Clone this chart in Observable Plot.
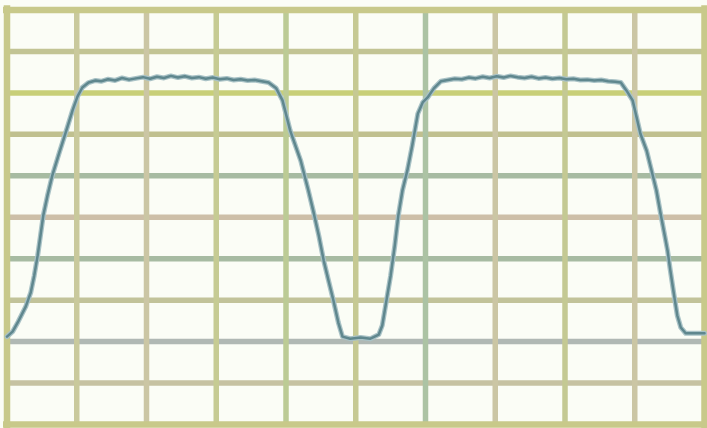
<!DOCTYPE html>
<html>
<head>
<meta charset="utf-8">
<script src="https://cdn.jsdelivr.net/npm/d3@7"></script>
<script src="https://cdn.jsdelivr.net/npm/@observablehq/plot@0.6"></script>
<style>
  html, body { margin: 0; padding: 0; background: #fbfdf6; }
  #chart svg { display: block; }
</style>
</head>
<body>
<div id="chart"></div>
<script>
// Oscilloscope trace, in screen divisions (10 x 10 graticule)
const time = [
  0.00, 0.08, 0.16, 0.27, 0.34, 0.39, 0.44, 0.48, 0.52, 0.58, 0.65, 0.75, 0.85, 0.94, 1.01, 1.08, 1.17, 1.27,
  1.35, 1.45, 1.55, 1.65, 1.75, 1.85, 1.95, 2.05, 2.15, 2.25, 2.35, 2.45, 2.55, 2.65, 2.75, 2.85, 2.95, 3.05, 3.15, 3.25, 3.35, 3.45, 3.55, 3.65,
  3.75, 3.86, 3.95, 4.06, 4.21, 4.32, 4.39, 4.47, 4.54, 4.61, 4.68, 4.75, 4.81,
  4.92, 5.07, 5.21, 5.33,
  5.38, 5.44, 5.50, 5.56, 5.61, 5.67, 5.74, 5.81, 5.89, 5.96, 6.03, 6.12, 6.22,
  6.32, 6.42, 6.52, 6.62, 6.72, 6.82, 6.92, 7.02, 7.12, 7.22, 7.32, 7.42, 7.52, 7.62, 7.72, 7.82, 7.92, 8.02, 8.12, 8.22, 8.32, 8.42, 8.52, 8.62, 8.72,
  8.80, 8.88, 8.97, 9.08, 9.17, 9.23, 9.31, 9.37, 9.43, 9.47, 9.51, 9.56, 9.61, 9.66, 9.73, 9.87, 10.00
];
const volts = [
  2.12, 2.24, 2.48, 2.85, 3.18, 3.59, 4.08, 4.56, 5.04, 5.52, 6.01, 6.56, 7.09, 7.58, 7.91, 8.13, 8.25, 8.30,
  8.28, 8.33, 8.30, 8.36, 8.32, 8.35, 8.38, 8.34, 8.39, 8.36, 8.41, 8.37, 8.40, 8.36, 8.38, 8.34, 8.37, 8.33, 8.35, 8.31, 8.33, 8.30, 8.31, 8.28,
  8.25, 8.11, 7.82, 7.09, 6.37, 5.65, 5.16, 4.56, 3.96, 3.47, 2.99, 2.46, 2.12,
  2.07, 2.10, 2.07, 2.17,
  2.39, 2.99, 3.59, 4.32, 5.04, 5.65, 6.13, 6.73, 7.50, 7.77, 7.89, 8.11, 8.28,
  8.31, 8.34, 8.33, 8.37, 8.35, 8.39, 8.36, 8.40, 8.37, 8.41, 8.38, 8.36, 8.39, 8.35, 8.37, 8.34, 8.36, 8.33, 8.34, 8.31, 8.32, 8.30, 8.31, 8.28, 8.27,
  8.25, 8.06, 7.82, 7.02, 6.61, 6.20, 5.65, 5.09, 4.56, 4.20, 3.72, 3.16, 2.63, 2.34, 2.20, 2.20, 2.20
];
const gridX = [0, 1, 2, 3, 4, 5, 6, 7, 8, 9, 10];
const gridY = [0, 1, 2, 3, 4, 5, 6, 7, 8, 9, 10];

// styling of the graticule lines (not data)
const colorsX = ["#c8c98a", "#c9c99c", "#cbc6a4", "#c6cb93", "#bccb95", "#c6c993", "#acc3a4", "#cbc6a4", "#c4c993", "#cbc6a4", "#c8c98a"];
const colorsY = ["#c8c98a", "#c6c2a2", "#b0b8b4", "#c2c39a", "#a7bba2", "#cdbfa8", "#a7bba2", "#c0c08f", "#c8cf78", "#c2c494", "#c8c98a"];

const rows = time.map((t, i) => ({t, v: volts[i]}));
const gx = gridX.map((x, i) => ({x, c: colorsX[i]}));
const gy = gridY.map((y, i) => ({y, c: colorsY[i]}));

const chart = Plot.plot({
  width: 707,
  height: 428,
  marginLeft: 6.5,
  marginRight: 3,
  marginTop: 9.5,
  marginBottom: 4,
  x: {domain: [0, 10], axis: null},
  y: {domain: [0, 10], axis: null},
  style: {background: "#fbfdf6"},
  marks: [
    Plot.ruleY(gy.filter(d => d.y > 0 && d.y < 10), {y: "y", stroke: "c", strokeWidth: 5.5, x1: 0, x2: 10}),
    Plot.ruleX(gx.filter(d => d.x > 0 && d.x < 10), {x: "x", stroke: "c", strokeWidth: 5.5, y1: 0, y2: 10}),
    Plot.ruleY(gy.filter(d => d.y === 0 || d.y === 10), {y: "y", stroke: "c", strokeWidth: 6.5, x1: -0.05, x2: 10.05}),
    Plot.ruleX(gx.filter(d => d.x === 0 || d.x === 10), {x: "x", stroke: "c", strokeWidth: 6.5, y1: -0.1, y2: 10.1}),
    Plot.line(rows, {x: "t", y: "v", stroke: "#a9c2c6", strokeWidth: 5, curve: "linear"}),
    Plot.line(rows, {x: "t", y: "v", stroke: "#5f878e", strokeWidth: 2.5, curve: "linear"})
  ]
});
document.getElementById("chart").appendChild(chart);
</script>
</body>
</html>
